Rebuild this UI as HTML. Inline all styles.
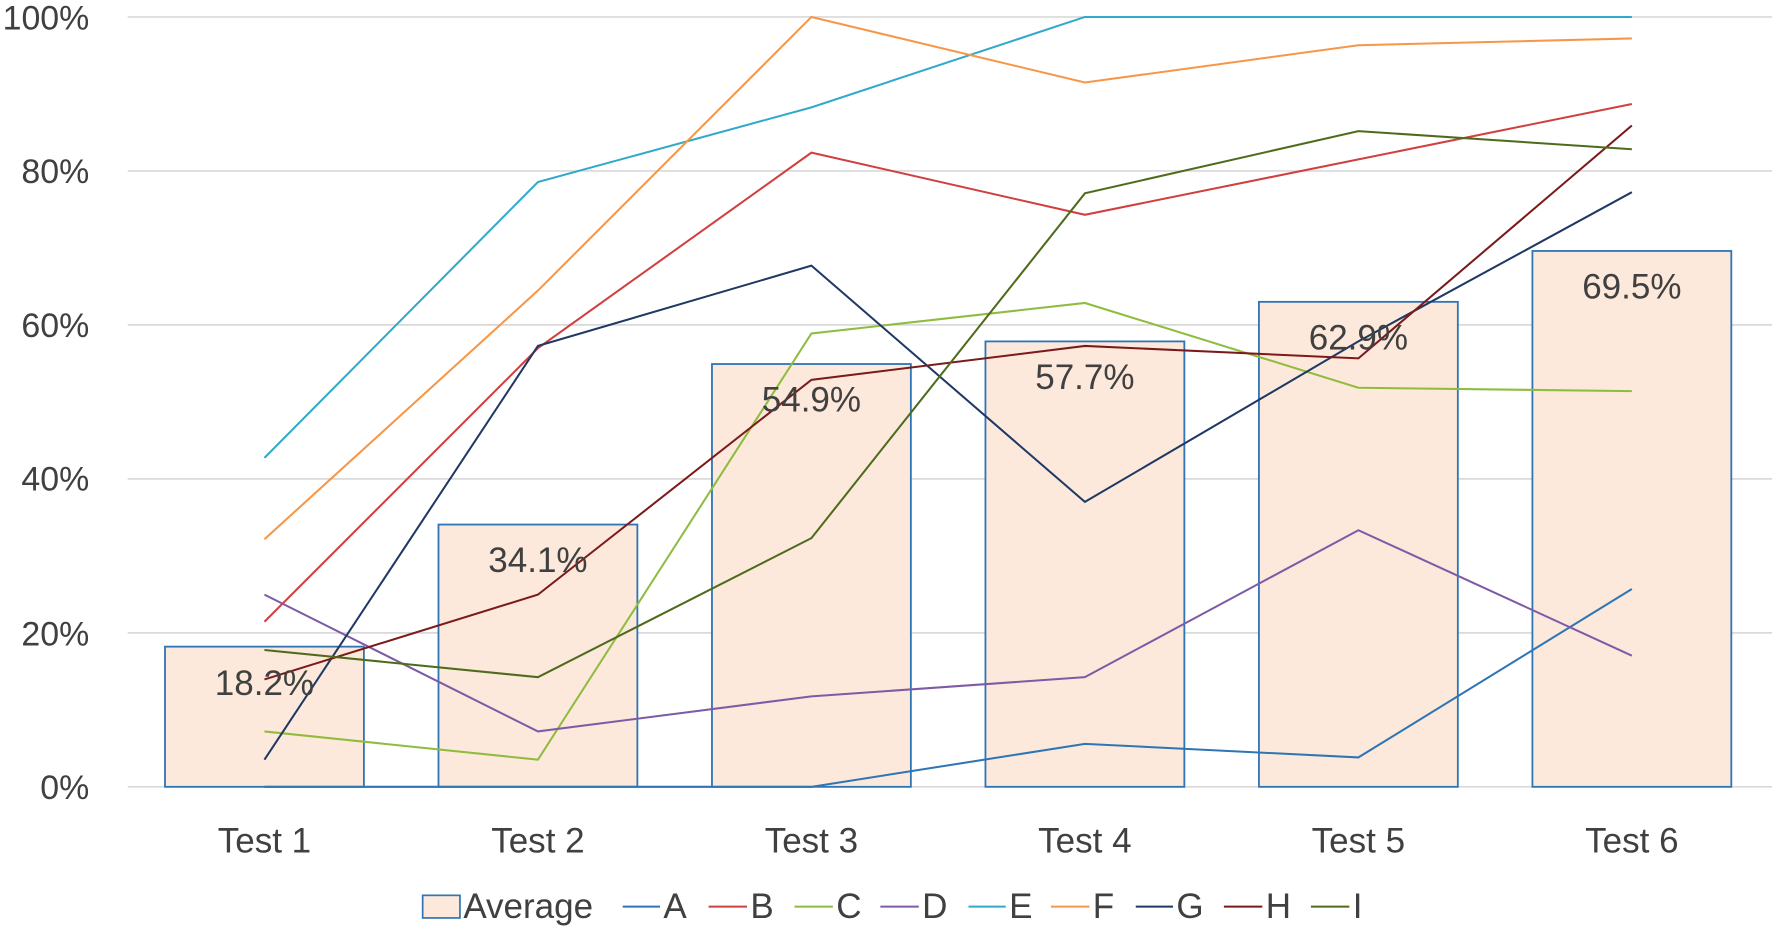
<!DOCTYPE html>
<html><head><meta charset="utf-8"><style>
html,body{margin:0;padding:0;background:#fff;}
svg{display:block;}
text{font-family:"Liberation Sans",sans-serif;fill:#404040;}
</style></head><body>
<svg width="1772" height="927" viewBox="0 0 1568 820" preserveAspectRatio="none" xmlns="http://www.w3.org/2000/svg">
<g stroke="#d9d9d9" stroke-width="1.5">
<line x1="113" x2="1568" y1="15" y2="15"/>
<line x1="113" x2="1568" y1="151.2" y2="151.2"/>
<line x1="113" x2="1568" y1="287.4" y2="287.4"/>
<line x1="113" x2="1568" y1="423.6" y2="423.6"/>
<line x1="113" x2="1568" y1="559.8" y2="559.8"/>
<line x1="113" x2="1568" y1="696" y2="696"/>
</g>
<g font-size="30" text-anchor="end">
<text x="79" y="26">100%</text>
<text x="79" y="162">80%</text>
<text x="79" y="298">60%</text>
<text x="79" y="434">40%</text>
<text x="79" y="571">20%</text>
<text x="79" y="707">0%</text>
</g>
<g fill="#fce9db" stroke="#2e75b6" stroke-width="1.6">
<rect x="146" y="572" width="176" height="124"/>
<rect x="388" y="464" width="176" height="232"/>
<rect x="630" y="322" width="176" height="374"/>
<rect x="872" y="302" width="176" height="394"/>
<rect x="1114" y="267" width="176" height="429"/>
<rect x="1356" y="222" width="176" height="474"/>
</g>
<g fill="none" stroke-width="1.8">
<polyline stroke="#2e75b6" points="234,696 476,696 718,696 960,658 1202,670 1444,521"/>
<polyline stroke="#d13f3f" points="234,550 476,308 718,135 960,190 1202,141 1444,92"/>
<polyline stroke="#8fbc3f" points="234,647 476,672 718,295 960,268 1202,343 1444,346"/>
<polyline stroke="#7d5ba6" points="234,526 476,647 718,616 960,599 1202,469 1444,580"/>
<polyline stroke="#31a9c9" points="234,405 476,161 718,95 960,15 1202,15 1444,15"/>
<polyline stroke="#f79646" points="234,477 476,257 718,15 960,73 1202,40 1444,34"/>
<polyline stroke="#1f3864" points="234,672 476,306 718,235 960,444 1202,302 1444,170"/>
<polyline stroke="#7b1a1a" points="234,601 476,526 718,336 960,306 1202,317 1444,111"/>
<polyline stroke="#4e6b1c" points="234,575 476,599 718,476 960,171 1202,116 1444,132"/>
</g>
<g font-size="31" text-anchor="middle">
<text x="234" y="615">18.2%</text>
<text x="476" y="506">34.1%</text>
<text x="718" y="364">54.9%</text>
<text x="960" y="344">57.7%</text>
<text x="1202" y="309">62.9%</text>
<text x="1444" y="264">69.5%</text>
<text x="234" y="754">Test 1</text>
<text x="476" y="754">Test 2</text>
<text x="718" y="754">Test 3</text>
<text x="960" y="754">Test 4</text>
<text x="1202" y="754">Test 5</text>
<text x="1444" y="754">Test 6</text>
</g>
<g font-size="31">
<rect x="374" y="792" width="33" height="20" fill="#fce9db" stroke="#2e75b6" stroke-width="1.5"/>
<text x="410" y="812">Average</text>
<line x1="551" x2="584" y1="802" y2="802" stroke="#2e75b6" stroke-width="1.8"/><text x="587" y="812">A</text>
<line x1="627" x2="661" y1="802" y2="802" stroke="#d13f3f" stroke-width="1.8"/><text x="664" y="812">B</text>
<line x1="703" x2="737" y1="802" y2="802" stroke="#8fbc3f" stroke-width="1.8"/><text x="740" y="812">C</text>
<line x1="779" x2="813" y1="802" y2="802" stroke="#7d5ba6" stroke-width="1.8"/><text x="816" y="812">D</text>
<line x1="857" x2="890" y1="802" y2="802" stroke="#31a9c9" stroke-width="1.8"/><text x="893" y="812">E</text>
<line x1="930" x2="964" y1="802" y2="802" stroke="#f79646" stroke-width="1.8"/><text x="967" y="812">F</text>
<line x1="1005" x2="1038" y1="802" y2="802" stroke="#1f3864" stroke-width="1.8"/><text x="1041" y="812">G</text>
<line x1="1083" x2="1117" y1="802" y2="802" stroke="#7b1a1a" stroke-width="1.8"/><text x="1120" y="812">H</text>
<line x1="1160" x2="1194" y1="802" y2="802" stroke="#4e6b1c" stroke-width="1.8"/><text x="1197" y="812">I</text>
</g>
</svg>
</body></html>
